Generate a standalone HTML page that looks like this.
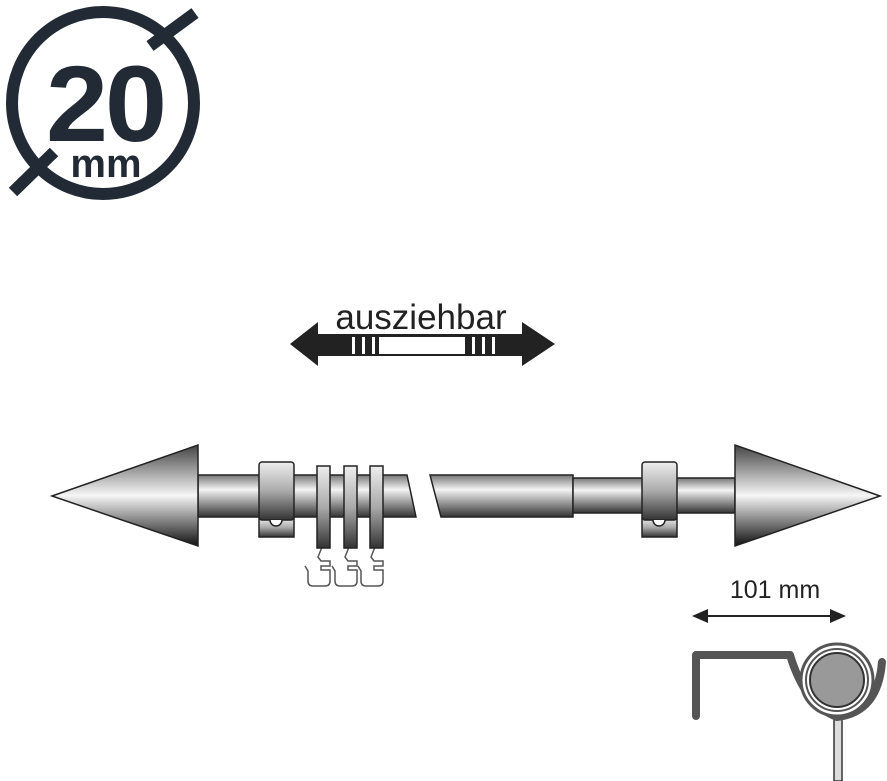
<!DOCTYPE html>
<html><head><meta charset="utf-8"><style>html,body{margin:0;padding:0;background:#fff}svg{display:block}</style></head>
<body>
<svg width="887" height="781" viewBox="0 0 887 781" xmlns="http://www.w3.org/2000/svg">
<defs>
<linearGradient id="m" x1="0" y1="0" x2="0" y2="1">
<stop offset="0" stop-color="#777"/><stop offset="0.35" stop-color="#f4f4f4"/><stop offset="0.6" stop-color="#aaa"/><stop offset="1" stop-color="#333"/></linearGradient>
<linearGradient id="c" x1="0" y1="0" x2="0" y2="1">
<stop offset="0" stop-color="#444"/><stop offset="0.5" stop-color="#f6f6f6"/><stop offset="1" stop-color="#111"/></linearGradient>
<linearGradient id="r" x1="0" y1="0" x2="0" y2="1">
<stop offset="0" stop-color="#eee"/><stop offset="0.5" stop-color="#aaa"/><stop offset="1" stop-color="#333"/></linearGradient>
</defs>
<!-- 20mm logo -->
<circle cx="103" cy="103" r="91" fill="none" stroke="#222b35" stroke-width="12"/>
<line x1="150" y1="46" x2="195" y2="13" stroke="#222b35" stroke-width="12"/>
<line x1="13" y1="192" x2="54" y2="152" stroke="#222b35" stroke-width="12"/>
<text x="105" y="141" font-family="Liberation Sans, sans-serif" font-weight="bold" font-size="108" fill="#222b35" text-anchor="middle" letter-spacing="-3" textLength="118" lengthAdjust="spacingAndGlyphs">20</text>
<text x="106" y="177" font-family="Liberation Sans, sans-serif" font-weight="bold" font-size="40" fill="#222b35" text-anchor="middle">mm</text>
<!-- ausziehbar -->
<text x="421" y="329" font-family="Liberation Sans, sans-serif" font-size="35" fill="#222" text-anchor="middle">ausziehbar</text>
<polygon points="290,344 318,322 318,334 522,334 522,322 555,344 522,366 522,356 318,356 318,366" fill="#222"/>
<rect x="379" y="337" width="86" height="17" fill="#fff"/>
<rect x="352" y="337" width="3" height="17" fill="#fff"/><rect x="362" y="337" width="3" height="17" fill="#fff"/><rect x="372" y="337" width="3" height="17" fill="#fff"/>
<rect x="472" y="337" width="3" height="17" fill="#fff"/><rect x="482" y="337" width="3" height="17" fill="#fff"/><rect x="492" y="337" width="3" height="17" fill="#fff"/>
<!-- rod -->
<g stroke="#222" stroke-width="1.5">
<polygon points="198,475 407,475 416,517 198,517" fill="url(#m)"/>
<polygon points="430,475 573,475 573,517 441,517" fill="url(#m)"/>
<rect x="573" y="478" width="162" height="35" fill="url(#m)"/>
<polygon points="52,496 198,445 198,546" fill="url(#c)"/>
<polygon points="880,496 735,445 735,546" fill="url(#c)"/>
<rect x="259" y="518" width="35" height="19" fill="url(#r)"/>
<rect x="259" y="462" width="35" height="58" rx="3" fill="url(#r)"/>
<path d="M270,520 a6,6 0 0 0 12,0" fill="#fff"/>
<rect x="642" y="518" width="35" height="19" fill="url(#r)"/>
<rect x="642" y="462" width="35" height="58" rx="3" fill="url(#r)"/>
<path d="M653,520 a6,6 0 0 0 12,0" fill="#fff"/>
</g>
<g fill="none" stroke="#555" stroke-width="1.5">
<path d="M322,547 l-4,10 l3,4 l9,0 l0,5 l-9,0 l0,4 l9,0 l0,11 q0,5 -5,5 l-12,0 q-5,0 -5,-5 l0,-10 l-3,-5"/>
<path d="M349,547 l-4,10 l3,4 l9,0 l0,5 l-9,0 l0,4 l9,0 l0,11 q0,5 -5,5 l-12,0 q-5,0 -5,-5 l0,-10 l-3,-5"/>
<path d="M375,547 l-4,10 l3,4 l9,0 l0,5 l-9,0 l0,4 l9,0 l0,11 q0,5 -5,5 l-12,0 q-5,0 -5,-5 l0,-10 l-3,-5"/>
</g>
<g stroke="#222" stroke-width="1.5">
<rect x="317" y="466" width="13" height="82" fill="url(#r)"/>
<rect x="344" y="466" width="13" height="82" fill="url(#r)"/>
<rect x="370" y="466" width="13" height="82" fill="url(#r)"/>
</g>
<!-- 101 mm -->
<text x="775" y="598" font-family="Liberation Sans, sans-serif" font-size="25" fill="#222" text-anchor="middle">101 mm</text>
<line x1="702" y1="616" x2="835" y2="616" stroke="#222" stroke-width="2"/>
<polygon points="692,616 708,609 708,623" fill="#222"/>
<polygon points="846,616 830,609 830,623" fill="#222"/>
<rect x="834" y="718" width="8" height="63" fill="#ddd" stroke="#333" stroke-width="1.5"/>
<path d="M696,716 L696,655 L790,655 Q805,705 837,717 Q878,712 882,662" fill="none" stroke="#555" stroke-width="8" stroke-linecap="round" stroke-linejoin="round"/>
<circle cx="837" cy="680" r="36" fill="#fff" stroke="#555" stroke-width="3"/>
<circle cx="837" cy="680" r="31" fill="#fff" stroke="#555" stroke-width="2"/>
<circle cx="837" cy="680" r="27" fill="#999" stroke="#333" stroke-width="2"/>
</svg>
</body></html>
